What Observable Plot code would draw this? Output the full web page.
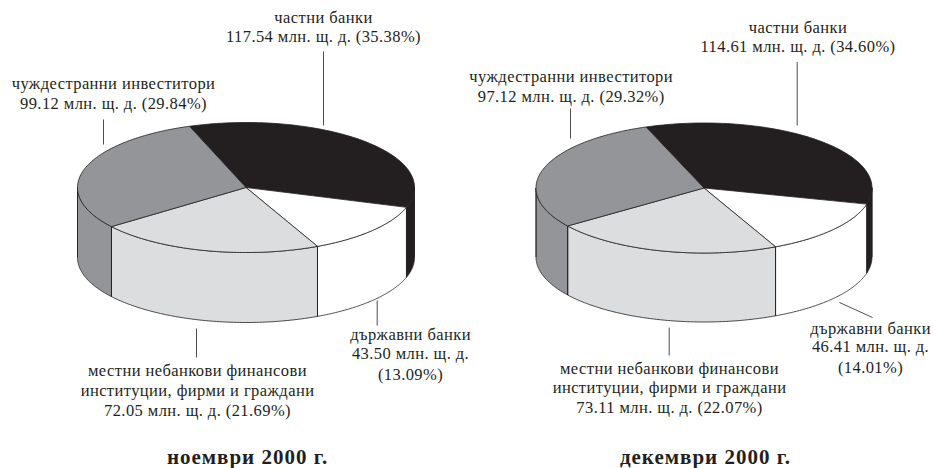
<!DOCTYPE html>
<html><head><meta charset="utf-8">
<style>html,body{margin:0;padding:0;background:#fff}svg{display:block}
svg g[font-size="16.5"]{letter-spacing:.42px}
svg g[font-weight="bold"]{letter-spacing:1px}</style>
<script src="https://cdn.jsdelivr.net/npm/d3@7"></script>
<script src="https://cdn.jsdelivr.net/npm/@observablehq/plot@0.6"></script>
</head><body><div id="chart"></div>
<script>
const categories = ["частни банки","държавни банки","местни небанкови финансови институции, фирми и граждани","чуждестранни инвеститори"];
const colors = ["#231f20","#ffffff","#dcddde","#939598"];
const novemberValues = [117.54,43.50,72.05,99.12];
const novemberShares = [35.38,13.09,21.69,29.84];
const decemberValues = [114.61,46.41,73.11,97.12];
const decemberShares = [34.60,14.01,22.07,29.32];

const pies = [
 {values:novemberValues,shares:novemberShares,cx:245.5,cy:187,rx:168.5,ry:65,depth:70,start:-19.6},
 {values:decemberValues,shares:decemberShares,cx:703.5,cy:187.5,rx:168,ry:65,depth:69,start:-20.2}
];
const ink = "#231f20";

const tops=[], sides=[], edges=[];
pies.forEach((p,pi)=>{
  const pt=(a,d=0)=>({x:p.cx+p.rx*Math.sin(a),y:p.cy-p.ry*Math.cos(a)+d});
  const total=d3.sum(p.shares);
  let a0=p.start*Math.PI/180;
  p.shares.forEach((s,i)=>{
    const a1=a0+s/total*2*Math.PI;
    const id=pi+"-"+i, n=80;
    const arc=d3.range(n+1).map(k=>a0+(a1-a0)*k/n);
    const c={x:p.cx,y:p.cy};
    [c,...arc.map(a=>pt(a)),c].forEach(q=>tops.push({...q,id,color:colors[i]}));
    const lo=Math.max(a0,Math.PI/2), hi=Math.min(a1,3*Math.PI/2);
    if(hi>lo){
      const w=d3.range(n+1).map(k=>lo+(hi-lo)*k/n);
      const poly=[...w.map(a=>pt(a)),...w.slice().reverse().map(a=>pt(a,p.depth))];
      poly.push(poly[0]);
      poly.forEach(q=>sides.push({...q,id,color:colors[i]}));
      if(a1<3*Math.PI/2 && a1>Math.PI/2 && i<3){
        const t=pt(a1),b=pt(a1,p.depth);
        edges.push({x1:t.x,y1:t.y,x2:b.x,y2:b.y});
      }
    }
    a0=a1;
  });
  [Math.PI/2,3*Math.PI/2].forEach(a=>{const t=pt(a),b=pt(a,p.depth);edges.push({x1:t.x,y1:t.y,x2:b.x,y2:b.y});});
});

const fmt=v=>v.toFixed(2);
const lab=(v,s)=>`${fmt(v)} млн. щ. д. (${fmt(s)}%)`;
const short=v=>`${fmt(v)} млн. щ. д.`;
const labels=[
 {x:323,y:22,t:categories[0]},{x:323,y:41.5,t:lab(novemberValues[0],novemberShares[0])},
 {x:113,y:88,t:categories[3]},{x:113,y:108,t:lab(novemberValues[3],novemberShares[3])},
 {x:197,y:375,t:"местни небанкови финансови"},{x:197,y:395,t:"институции, фирми и граждани"},{x:197,y:415,t:lab(novemberValues[2],novemberShares[2])},
 {x:410,y:339,t:categories[1]},{x:410,y:358,t:short(novemberValues[1])},{x:410,y:379,t:`(${fmt(novemberShares[1])}%)`},
 {x:797.5,y:32,t:categories[0]},{x:797.5,y:51,t:lab(decemberValues[0],decemberShares[0])},
 {x:570.7,y:81,t:categories[3]},{x:570.7,y:101,t:lab(decemberValues[3],decemberShares[3])},
 {x:669,y:373,t:"местни небанкови финансови"},{x:669,y:392,t:"институции, фирми и граждани"},{x:669,y:412,t:lab(decemberValues[2],decemberShares[2])},
 {x:870,y:333,t:categories[1]},{x:870,y:351,t:short(decemberValues[1])},{x:870,y:372,t:`(${fmt(decemberShares[1])}%)`}
];
const titles=[{x:247,y:463.5,t:"ноември 2000 г."},{x:705,y:463.5,t:"декември 2000 г."}];
const leaders=[
 {x1:323,y1:51,x2:323,y2:125},{x1:103,y1:119,x2:103,y2:144},
 {x1:376.7,y1:300,x2:376.7,y2:325},{x1:196,y1:328,x2:196,y2:357},
 {x1:796.7,y1:61.5,x2:796.7,y2:125},{x1:570,y1:108,x2:570,y2:138},
 {x1:839,y1:302,x2:872,y2:317},{x1:668.7,y1:327,x2:668.7,y2:355}
];

const chart=Plot.plot({
  width:935,height:468,margin:0,
  style:{background:"#fff"},
  x:{domain:[0,935],range:[0,935],axis:null},
  y:{domain:[0,468],range:[0,468],axis:null},
  marks:[
    Plot.line(sides,{x:"x",y:"y",z:"id",fill:"color",stroke:ink,strokeWidth:0.8,curve:"linear"}),
    Plot.link(edges,{x1:"x1",y1:"y1",x2:"x2",y2:"y2",stroke:ink,strokeWidth:0.8}),
    Plot.line(tops,{x:"x",y:"y",z:"id",fill:"color",stroke:ink,strokeWidth:0.8,curve:"linear"}),
    Plot.link(leaders,{x1:"x1",y1:"y1",x2:"x2",y2:"y2",stroke:ink,strokeWidth:0.8}),
    Plot.text(labels,{x:"x",y:"y",text:"t",fontFamily:"Liberation Serif",fontSize:16.5,fill:ink,textAnchor:"middle",lineAnchor:"bottom"}),
    Plot.text(titles,{x:"x",y:"y",text:"t",fontFamily:"Liberation Serif",fontSize:21,fontWeight:"bold",fill:ink,textAnchor:"middle",lineAnchor:"bottom"})
  ]
});
document.getElementById("chart").append(chart);
</script></body></html>
